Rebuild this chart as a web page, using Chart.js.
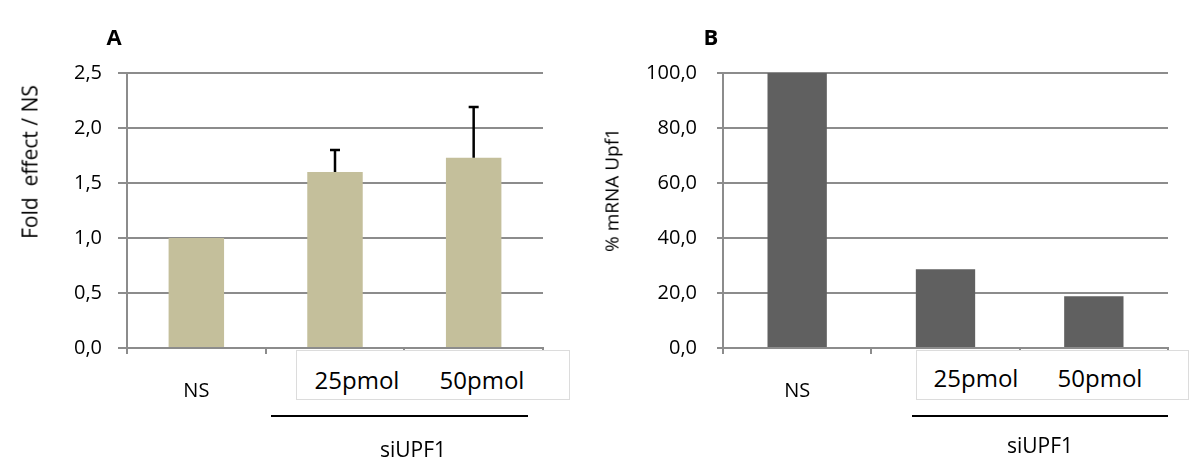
<!DOCTYPE html>
<html>
<head>
<meta charset="utf-8">
<script src="https://cdn.jsdelivr.net/npm/chart.js@4/dist/chart.umd.min.js"></script>
<style>
  html, body { margin:0; padding:0; background:#fff; }
  #wrap { position:relative; width:1200px; height:474px; background:#fff; overflow:hidden; font-family:'Open Sans', sans-serif; color:#000; }
  canvas { position:absolute; top:0; }
  .t { position:absolute; line-height:1; white-space:pre; transform:translate(-50%,-50%); }
  .rot { position:absolute; line-height:1; white-space:pre; transform:translate(-50%,-50%) rotate(-90deg); }
  .box { position:absolute; background:#fff; border:1px solid #dcdcdc; box-sizing:border-box; }
  .line { position:absolute; background:#000; height:2px; }
  .panel { position:absolute; font-weight:bold; font-size:22px; line-height:1; transform:translate(-50%,-50%); }
</style>
</head>
<body>
<div id="wrap">
  <canvas id="cA" width="600" height="474" style="left:0;width:600px;height:474px"></canvas>
  <canvas id="cB" width="600" height="474" style="left:600px;width:600px;height:474px"></canvas>

  <div class="panel" style="left:114px;top:36px">A</div>
  <div class="panel" style="left:711px;top:36px">B</div>

  <div class="rot" style="left:30px;top:162px;font-size:21px">Fold  effect / NS</div>
  <div class="rot" style="left:612px;top:190px;font-size:19px">% mRNA Upf1</div>

  <div class="box" style="left:296px;top:350px;width:274px;height:50px"></div>
  <div class="t" id="lA1" style="left:357px;top:380px;font-size:24px"></div>
  <div class="t" id="lA2" style="left:482px;top:380px;font-size:24px"></div>

  <div class="box" style="left:916px;top:350px;width:273px;height:50px"></div>
  <div class="t" id="lB1" style="left:976px;top:378px;font-size:24px"></div>
  <div class="t" id="lB2" style="left:1100px;top:378px;font-size:24px"></div>

  <div class="line" style="left:271px;top:415px;width:257px"></div>
  <div class="line" style="left:912px;top:415px;width:256px"></div>
  <div class="t" id="gA" style="left:413px;top:449px;font-size:21px"></div>
  <div class="t" id="gB" style="left:1040px;top:445px;font-size:21px"></div>
</div>
<script>
// ---- data ----
const categories = ['NS', '25pmol', '50pmol'];
const foldEffect = [1.0, 1.6, 1.73];
const foldErrorUp = [null, 0.2, 0.46];
const mrnaUpf1 = [100.0, 28.6, 18.8];
const foldTicks = [0, 0.5, 1.0, 1.5, 2.0, 2.5];
const mrnaTicks = [0, 20, 40, 60, 80, 100];
const groupLabel = 'siUPF1';

document.getElementById('lA1').textContent = categories[1];
document.getElementById('lA2').textContent = categories[2];
document.getElementById('lB1').textContent = categories[1];
document.getElementById('lB2').textContent = categories[2];
document.getElementById('gA').textContent = groupLabel;
document.getElementById('gB').textContent = groupLabel;

Chart.defaults.font.family = "'Open Sans', sans-serif";
Chart.defaults.color = '#000';

const GRID = '#8c8c8c';
const fmt = v => Number(v).toFixed(1).replace('.', ',');

const errorBars = {
  id: 'errorBars',
  afterDatasetsDraw(chart, args, opts) {
    if (!opts.errors) return;
    const meta = chart.getDatasetMeta(0);
    const ys = chart.scales.y;
    const ctx = chart.ctx;
    ctx.save();
    ctx.strokeStyle = '#000';
    ctx.lineWidth = 2.5;
    meta.data.forEach((bar, i) => {
      const e = opts.errors[i];
      if (e == null) return;
      const v = chart.data.datasets[0].data[i];
      const x = bar.x;
      const y0 = ys.getPixelForValue(v);
      const y1 = ys.getPixelForValue(v + e);
      ctx.beginPath();
      ctx.moveTo(x, y0); ctx.lineTo(x, y1);
      ctx.moveTo(x - 5, y1); ctx.lineTo(x + 5, y1);
      ctx.stroke();
    });
    ctx.restore();
  }
};

function makeChart(id, values, color, ticks, yWidth, tickLen, tickPad, padRight, errors) {
  return new Chart(document.getElementById(id), {
    type: 'bar',
    data: {
      labels: categories,
      datasets: [{ data: values, backgroundColor: color, borderWidth: 0,
                   barPercentage: 0.4, categoryPercentage: 1.0 }]
    },
    options: {
      responsive: false,
      animation: false,
      devicePixelRatio: 1,
      layout: { padding: { top: 73, right: padRight, left: 0, bottom: 0 } },
      plugins: { legend: { display: false }, tooltip: { enabled: false }, errorBars: { errors } },
      scales: {
        x: {
          offset: true,
          grid: { display: true, drawOnChartArea: false, drawTicks: true, tickLength: 6, color: GRID, lineWidth: 2, offset: true },
          border: { display: true, color: GRID, width: 2 },
          ticks: {
            padding: 25, font: { size: 20 }, maxRotation: 0, autoSkip: false,
            callback: (v, i) => i === 0 ? categories[0] : ''
          },
          afterFit: s => { s.height = 474 - 348; }
        },
        y: {
          min: ticks[0], max: ticks[ticks.length - 1],
          afterBuildTicks: s => { s.ticks = ticks.map(v => ({ value: v })); },
          grid: { color: GRID, lineWidth: 2, drawTicks: true, tickLength: tickLen },
          border: { display: true, color: GRID, width: 2 },
          ticks: { padding: tickPad, font: { size: 20 }, callback: v => fmt(v) },
          afterFit: s => { s.width = yWidth; }
        }
      }
    },
    plugins: [errorBars]
  });
}

makeChart('cA', foldEffect, '#c4bf9b', foldTicks, 127, 9, 16, 57, foldErrorUp);
makeChart('cB', mrnaUpf1, '#606060', mrnaTicks, 123, 6, 20, 32, null);
</script>
</body>
</html>
